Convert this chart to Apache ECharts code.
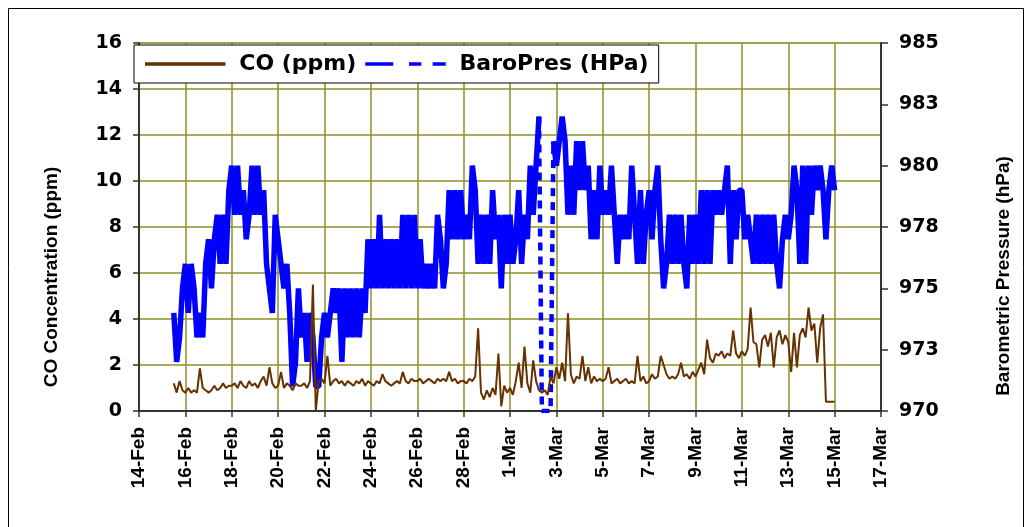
<!DOCTYPE html>
<html>
<head>
<meta charset="utf-8">
<script src="https://cdn.jsdelivr.net/npm/echarts@6/dist/echarts.min.js"></script>
<style>
  html, body { margin: 0; padding: 0; background: #fff; }
  #chart { width: 1029px; height: 527px; }
</style>
</head>
<body>
<div id="chart"></div>
<script>
// x tick labels, one every 2 days from 14-Feb (2004, leap year)
const xLabels = ['14-Feb', '16-Feb', '18-Feb', '20-Feb', '22-Feb', '24-Feb', '26-Feb', '28-Feb',
  '1-Mar', '3-Mar', '5-Mar', '7-Mar', '9-Mar', '11-Mar', '13-Mar', '15-Mar', '17-Mar']

// readings every 3 hours, first one at 15-Feb 12:00 (day 1.5 after 14-Feb)
const startDay = 1.5
const stepDays = 0.125

// barometric pressure (hPa), 970 = logger dropout
const baroHpa = [
  974, 972, 973, 975,
  976, 974, 976, 975, 973, 974, 973, 976,
  977, 975, 977, 978, 976, 978, 976, 979,
  980, 978, 980, 978, 979, 977, 978, 980,
  978, 980, 978, 979, 976, 975, 974, 978,
  977, 976, 975, 976, 974, 971, 972, 975,
  973, 974, 972, 974, 973, 971, 971, 973,
  974, 973, 974, 975, 974, 975, 972, 975,
  973, 975, 973, 975, 973, 975, 974, 977,
  975, 977, 975, 978, 975, 977, 975, 977,
  975, 977, 975, 978, 975, 978, 975, 978,
  975, 977, 975, 976, 975, 976, 975, 978,
  977, 975, 976, 979, 977, 979, 977, 979,
  977, 978, 977, 980, 979, 976, 978, 976,
  978, 976, 979, 977, 978, 975, 978, 976,
  978, 976, 977, 979, 976, 978, 977, 980,
  978, 980, 982, 970, 970, 970, 970, 981,
  980, 981, 982, 981, 978, 980, 978, 981,
  979, 981, 979, 980, 977, 979, 977, 980,
  978, 979, 978, 980, 978, 976, 978, 977,
  978, 977, 980, 978, 976, 979, 976, 978,
  979, 977, 979, 980, 977, 975, 976, 978,
  976, 978, 976, 978, 976, 975, 978, 976,
  978, 976, 979, 976, 979, 976, 979, 978,
  979, 978, 979, 980, 976, 979, 977, 979,
  979, 977, 978, 977, 976, 978, 976, 978,
  976, 978, 976, 978, 976, 975, 977, 978,
  977, 978, 980, 979, 976, 980, 976, 980,
  978, 980, 979, 980, 979, 977, 979, 980,
  979
]

// CO concentration (ppm)
const coPpm = [
  1.2, 0.8, 1.3, 0.9,
  0.8, 1.0, 0.8, 0.9, 0.8, 1.85, 1.0, 0.9,
  0.8, 0.9, 1.1, 0.9, 1.0, 1.2, 1.0, 1.1,
  1.1, 1.2, 1.0, 1.3, 1.1, 1.0, 1.3, 1.1,
  1.2, 1.0, 1.3, 1.5, 1.1, 1.9, 1.2, 1.0,
  1.1, 1.7, 1.0, 1.2, 1.1, 0.9, 1.2, 1.1,
  1.1, 1.2, 1.0, 1.3, 5.5, 0.0, 1.3, 1.4,
  1.2, 2.4, 1.1, 1.3, 1.4, 1.2, 1.3, 1.1,
  1.3, 1.2, 1.1, 1.3, 1.2, 1.4, 1.1, 1.3,
  1.2, 1.1, 1.3, 1.2, 1.6, 1.3, 1.2, 1.1,
  1.2, 1.3, 1.2, 1.7, 1.3, 1.2, 1.4, 1.3,
  1.3, 1.4, 1.2, 1.3, 1.4, 1.3, 1.2, 1.4,
  1.3, 1.4, 1.3, 1.7, 1.3, 1.4, 1.2, 1.3,
  1.3, 1.2, 1.4, 1.3, 1.5, 3.6, 0.8, 0.5,
  0.9, 0.6, 1.0, 0.7, 2.5, 0.2, 1.1, 0.8,
  1.0, 0.7, 1.3, 2.1, 1.0, 2.8, 1.2, 0.8,
  2.2, 1.3, 0.9, 0.8, 0.9, 0.7, 1.5, 1.2,
  1.9, 1.4, 2.1, 1.3, 4.25, 1.6, 1.2, 1.5,
  1.4, 2.4, 1.3, 1.9, 1.2, 1.5, 1.3, 1.4,
  1.3, 1.4, 1.9, 1.2, 1.3, 1.4, 1.2, 1.3,
  1.4, 1.2, 1.3, 1.2, 2.4, 1.3, 1.5, 1.2,
  1.3, 1.6, 1.4, 1.5, 2.4, 2.0, 1.6, 1.4,
  1.5, 1.4, 1.6, 2.1, 1.5, 1.6, 1.4, 1.7,
  1.5, 1.8, 2.1, 1.6, 3.1, 2.3, 2.1, 2.5,
  2.4, 2.6, 2.3, 2.5, 2.4, 3.5, 2.5, 2.3,
  2.6, 2.4, 2.7, 4.5, 3.0, 2.9, 1.9, 3.1,
  3.3, 2.8, 3.4, 1.9, 3.2, 3.5, 2.9, 3.3,
  3.0, 1.7, 3.4, 1.9, 3.3, 3.6, 3.2, 4.5,
  3.5, 3.8, 2.1, 3.6, 4.2, 0.4, 0.4, 0.4,
  0.4
]

const dayOf = (i) => startDay + i * stepDays
const isDrop = (v) => v <= 970

// solid line where data is good, dashed where it falls to the dropout
const baroSolid = baroHpa.map((v, i) => [dayOf(i), isDrop(v) ? null : v])
const baroGap = baroHpa.map((v, i) => {
  const near = isDrop(v) || isDrop(baroHpa[i - 1]) || isDrop(baroHpa[i + 1])
  return [dayOf(i), near ? v : null]
})
const coData = coPpm.map((v, i) => [dayOf(i), v])

const gridCol = '#8f8f25'
const axisCol = '#333'
const numFont = '"DejaVu Sans", sans-serif'
const txtFont = '"Liberation Sans", Arial, sans-serif'

const option = {
  animation: false,
  backgroundColor: '#fff',
  grid: {
    left: 139,
    right: 148,
    top: 43,
    bottom: 116,
    show: true,
    borderColor: '#9a9a9a',
    borderWidth: 1,
  },
  legend: {
    left: 134,
    top: 45,
    padding: [8, 10, 8, 11],
    backgroundColor: '#fff',
    borderColor: '#000',
    borderWidth: 1,
    borderRadius: 0,
    itemWidth: 92,
    itemHeight: 3.5,
    itemGap: 9,
    textStyle: {
      fontFamily: numFont,
      fontWeight: 'bold',
      fontSize: 22,
      color: '#000',
      padding: [0, 0, 0, 3],
    },
    data: [
      { name: 'CO (ppm)', icon: 'path://M0,0h92v4h-92z' },
      { name: 'BaroPres (HPa)', icon: 'path://M0,0h32v4h-32z M50,0h14v4h-14z M77,0h15v4h-15z' },
    ],
  },
  xAxis: {
    type: 'value',
    min: 0,
    max: 32,
    interval: 2,
    axisLine: { show: true, onZero: false, lineStyle: { color: axisCol, width: 2 } },
    axisTick: { show: true, length: 6, lineStyle: { color: axisCol, width: 1.5 } },
    splitLine: { show: true, lineStyle: { color: gridCol, width: 1.5 } },
    axisLabel: {
      rotate: 90,
      margin: 16,
      fontFamily: txtFont,
      fontWeight: 'bold',
      fontSize: 19,
      color: '#000',
      formatter: (v) => xLabels[Math.round(v / 2)],
    },
  },
  yAxis: [
    {
      type: 'value',
      min: 0,
      max: 16,
      interval: 2,
      axisLine: { show: true, lineStyle: { color: axisCol, width: 2 } },
      axisTick: { show: true, length: 6, lineStyle: { color: axisCol, width: 1.5 } },
      splitLine: { show: true, lineStyle: { color: gridCol, width: 1.5 } },
      axisLabel: {
        margin: 17,
        fontFamily: numFont,
        fontWeight: 'bold',
        fontSize: 19,
        color: '#000',
      },
    },
    {
      type: 'value',
      position: 'right',
      min: 970,
      max: 985,
      interval: 2.5,
      axisLine: { show: true, lineStyle: { color: axisCol, width: 2 } },
      axisTick: { show: true, length: 7, lineStyle: { color: axisCol, width: 1.5 } },
      splitLine: { show: false },
      axisLabel: {
        margin: 18,
        fontFamily: numFont,
        fontWeight: 'bold',
        fontSize: 19,
        color: '#000',
        formatter: (v) => String(Math.round(v)),
      },
    },
  ],
  graphic: [
    {
      // chart frame, its bottom edge runs off the picture
      type: 'rect',
      shape: { x: 8.5, y: 8.5, width: 1015, height: 530 },
      style: { fill: 'none', stroke: '#000', lineWidth: 1 },
      silent: true,
    },
    {
      type: 'text',
      x: 52,
      y: 277,
      rotation: Math.PI / 2,
      style: {
        text: 'CO Concentration (ppm)',
        fontFamily: txtFont,
        fontWeight: 'bold',
        fontSize: 19,
        fill: '#000',
        align: 'center',
        verticalAlign: 'middle',
      },
    },
    {
      type: 'text',
      x: 1004,
      y: 276,
      rotation: Math.PI / 2,
      style: {
        text: 'Barometric Pressure (hPa)',
        fontFamily: txtFont,
        fontWeight: 'bold',
        fontSize: 19,
        fill: '#000',
        align: 'center',
        verticalAlign: 'middle',
      },
    },
  ],
  series: [
    {
      name: 'BaroPres (HPa)',
      type: 'line',
      yAxisIndex: 1,
      symbol: 'none',
      connectNulls: false,
      data: baroSolid,
      lineStyle: { color: '#0000ff', width: 5.5 },
      itemStyle: { color: '#0000ff' },
      z: 2,
    },
    {
      name: 'BaroPres gap',
      type: 'line',
      yAxisIndex: 1,
      symbol: 'none',
      data: baroGap,
      lineStyle: { color: '#0000ff', width: 4.5, type: [8, 6] },
      itemStyle: { color: '#0000ff' },
      z: 2,
    },
    {
      name: 'CO (ppm)',
      type: 'line',
      yAxisIndex: 0,
      symbol: 'none',
      data: coData,
      lineStyle: { color: '#663300', width: 2 },
      itemStyle: { color: '#663300' },
      z: 3,
    },
  ],
}

const myChart = echarts.init(document.getElementById('chart'), null, { renderer: 'canvas' })
myChart.setOption(option)
window.addEventListener('resize', () => {
  myChart.resize()
})
</script>
</body>
</html>
